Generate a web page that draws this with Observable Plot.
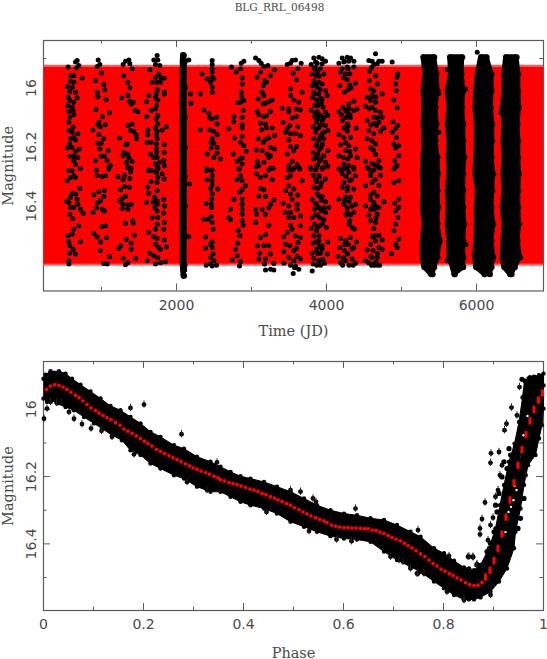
<!DOCTYPE html>
<html><head><meta charset="utf-8">
<script src="https://cdn.jsdelivr.net/npm/d3@7"></script>
<script src="https://cdn.jsdelivr.net/npm/@observablehq/plot@0.6"></script>
<style>html,body{margin:0;padding:0;background:#fff}svg{display:block}</style>
</head><body><div id="chart"></div>
<script>
const titleText = "BLG_RRL_06498";
const ink = "#4a4a4a", frameInk = "#5a5a5a";
const serif = "'DejaVu Serif', serif", sans = "'DejaVu Sans', sans-serif";

const xMajorTime = [2000, 4000, 6000], xMinorTime = [1000, 3000, 5000];
const yMajor = [16, 16.2, 16.4], yMinor = [15.9, 16.1, 16.3, 16.5];
const xMajorPhase = [0, 0.2, 0.4, 0.6, 0.8, 1], xMinorPhase = [0.1, 0.3, 0.5, 0.7, 0.9];

const bandOuter = [{t1: 233, t2: 6893, m1: 15.923, m2: 16.603}];
const bandInner = [{t1: 233, t2: 6893, m1: 15.93, m2: 16.596}];

const season1 = [[676,15.907],[654,15.912],[698,15.924],[667,15.932],[556,15.929],[742,15.966],[587,15.958],[631,15.958],[587,15.977],[631,15.98],[543,15.995],[609,15.997],[578,16.012],[654,16.014],[556,16.031],[676,16.033],[578,16.042],[631,16.048],[551,16.059],[609,16.065],[622,16.076],[565,16.079],[578,16.099],[631,16.09],[565,16.116],[622,16.133],[565,16.144],[609,16.15],[685,16.155],[631,16.167],[587,16.172],[654,16.176],[578,16.189],[543,16.203],[609,16.201],[703,16.206],[654,16.215],[578,16.231],[631,16.231],[685,16.235],[631,16.246],[654,16.259],[609,16.28],[565,16.28],[720,16.272],[631,16.297],[543,16.314],[587,16.303],[654,16.303],[711,16.34],[609,16.356],[654,16.359],[534,16.382],[587,16.37],[565,16.387],[676,16.376],[685,16.393],[587,16.404],[631,16.404],[720,16.41],[756,16.425],[578,16.427],[618,16.442],[698,16.466],[631,16.478],[551,16.5],[609,16.495],[720,16.52],[565,16.52],[578,16.534],[622,16.546],[578,16.559],[654,16.562],[565,16.585],[565,16.596]];
const season2 = [[956,15.905],[978,15.92],[943,15.927],[1000,15.949],[920,15.975],[1031,15.988],[1045,16.006],[943,16.014],[951,16.029],[1062,16.039],[1107,16.084],[925,16.073],[1014,16.097],[965,16.116],[885,16.142],[951,16.124],[987,16.131],[1054,16.124],[965,16.158],[1031,16.172],[951,16.187],[996,16.187],[978,16.206],[1089,16.212],[920,16.246],[996,16.231],[1040,16.231],[1076,16.246],[1120,16.263],[1098,16.274],[934,16.277],[943,16.295],[1009,16.299],[1098,16.269],[1054,16.297],[965,16.351],[1040,16.348],[898,16.361],[1031,16.367],[951,16.387],[987,16.382],[934,16.404],[1009,16.41],[889,16.421],[1040,16.416],[1009,16.469],[1054,16.466],[898,16.492],[943,16.504],[1067,16.507],[987,16.521],[987,16.551],[1107,16.571],[1031,16.594],[1076,16.596]];
const season3 = [[1365,15.905],[1320,15.909],[1289,15.92],[1378,15.918],[1409,15.935],[1298,15.958],[1351,15.98],[1378,15.999],[1351,16.025],[1267,16.033],[1378,16.045],[1423,16.048],[1396,16.054],[1445,16.076],[1485,16.08],[1409,16.122],[1356,16.127],[1387,16.144],[1431,16.146],[1462,16.159],[1240,16.169],[1467,16.172],[1320,16.192],[1342,16.189],[1298,16.218],[1351,16.223],[1289,16.229],[1365,16.237],[1409,16.248],[1334,16.251],[1351,16.266],[1396,16.272],[1351,16.269],[1387,16.283],[1307,16.295],[1289,16.31],[1222,16.3],[1378,16.306],[1307,16.333],[1374,16.336],[1254,16.344],[1276,16.374],[1320,16.367],[1245,16.382],[1289,16.393],[1276,16.408],[1351,16.396],[1396,16.393],[1351,16.41],[1320,16.458],[1414,16.449],[1423,16.457],[1440,16.498],[1329,16.512],[1396,16.525],[1254,16.534],[1231,16.542],[1396,16.546],[1289,16.576],[1454,16.577],[1351,16.591],[1320,16.598]];
const season4 = [[1742,15.89],[1698,15.905],[1751,15.905],[1720,15.92],[1778,15.924],[1645,15.938],[1765,15.952],[1720,15.963],[1796,15.966],[1840,15.967],[1676,15.98],[1742,15.98],[1787,15.98],[1742,16.006],[1734,16.018],[1840,16.014],[1631,16.025],[1720,16.031],[1840,16.02],[1600,16.046],[1751,16.04],[1734,16.059],[1662,16.076],[1720,16.071],[1600,16.096],[1751,16.093],[1729,16.105],[1751,16.122],[1720,16.135],[1867,16.131],[1809,16.142],[1618,16.142],[1742,16.146],[1618,16.158],[1734,16.158],[1742,16.172],[1609,16.184],[1662,16.184],[1734,16.189],[1840,16.192],[1734,16.206],[1734,16.218],[1840,16.218],[1654,16.223],[1742,16.235],[1698,16.235],[1778,16.251],[1831,16.246],[1720,16.257],[1840,16.263],[1631,16.277],[1751,16.274],[1631,16.28],[1676,16.28],[1751,16.269],[1734,16.286],[1809,16.291],[1840,16.308],[1751,16.303],[1662,16.317],[1742,16.32],[1618,16.336],[1742,16.348],[1631,16.356],[1707,16.37],[1742,16.382],[1689,16.385],[1600,16.387],[1831,16.376],[1742,16.393],[1840,16.399],[1707,16.404],[1742,16.416],[1831,16.423],[1676,16.438],[1751,16.438],[1840,16.455],[1742,16.461],[1720,16.478],[1831,16.478],[1631,16.489],[1698,16.503],[1742,16.509],[1840,16.514],[1720,16.529],[1765,16.54],[1867,16.538],[1787,16.546],[1645,16.559],[1698,16.568],[1751,16.574],[1609,16.585],[1720,16.596],[1853,16.588],[1787,16.591]];
const season5side = [[2165,15.905],[2187,16.02],[2196,16.051],[2174,16.325],[2163,16.503]];
const season6 = [[2476,15.907],[2476,15.92],[2476,15.935],[2476,15.946],[2476,15.963],[2409,15.969],[2498,15.969],[2454,15.98],[2476,15.997],[2342,15.952],[2320,16.02],[2476,16.014],[2365,16.074],[2431,16.085],[2476,16.105],[2534,16.099],[2445,16.101],[2542,16.122],[2320,16.141],[2445,16.142],[2498,16.146],[2542,16.158],[2476,16.172],[2462,16.184],[2498,16.187],[2462,16.203],[2542,16.201],[2409,16.223],[2542,16.221],[2498,16.235],[2587,16.24],[2400,16.274],[2476,16.277],[2400,16.279],[2467,16.279],[2476,16.297],[2409,16.31],[2476,16.314],[2476,16.329],[2551,16.342],[2454,16.342],[2476,16.359],[2467,16.376],[2396,16.391],[2467,16.393],[2467,16.404],[2365,16.444],[2422,16.444],[2462,16.435],[2476,16.455],[2489,16.478],[2387,16.504],[2454,16.529],[2476,16.521],[2387,16.542],[2476,16.54],[2489,16.562],[2454,16.574],[2396,16.6],[2454,16.596],[2498,16.585],[2534,16.6],[2476,16.602]];
const season7 = [[2898,15.909],[2863,15.916],[2734,15.929],[2796,15.946],[2876,15.966],[2854,15.935],[2876,15.986],[2863,16.014],[2867,16.029],[2898,16.042],[2818,16.05],[2854,16.048],[2889,16.076],[2765,16.097],[2876,16.099],[2765,16.114],[2876,16.124],[2876,16.135],[2698,16.138],[2774,16.169],[2876,16.164],[2854,16.184],[2898,16.195],[2929,16.214],[2756,16.223],[2876,16.237],[2809,16.248],[2854,16.24],[2831,16.274],[2876,16.257],[2840,16.274],[2854,16.297],[2809,16.31],[2876,16.314],[2920,16.331],[2876,16.344],[2845,16.353],[2765,16.376],[2876,16.376],[2876,16.393],[2720,16.41],[2876,16.41],[2698,16.438],[2720,16.446],[2876,16.427],[2876,16.449],[2822,16.481],[2889,16.464],[2845,16.5],[2818,16.525],[2787,16.546],[2809,16.568],[2743,16.582],[2854,16.587],[2840,16.602]];
const season8 = [[3054,15.898],[3098,15.907],[3129,15.916],[3165,15.927],[3218,15.924],[3307,15.938],[3120,15.946],[3254,15.958],[3076,15.963],[3174,15.975],[3200,15.98],[3156,15.992],[3142,16.014],[3165,16.025],[3089,16.037],[3276,16.04],[3231,16.046],[3187,16.051],[3156,16.054],[3254,16.079],[3076,16.079],[3098,16.09],[3200,16.093],[3165,16.097],[3120,16.119],[3187,16.122],[3134,16.141],[3200,16.135],[3276,16.135],[3089,16.172],[3187,16.175],[3231,16.169],[3307,16.161],[3156,16.184],[3254,16.201],[3307,16.206],[3062,16.21],[3142,16.212],[3209,16.223],[3254,16.229],[3076,16.248],[3165,16.251],[3231,16.235],[3062,16.266],[3254,16.271],[3098,16.263],[3231,16.277],[3289,16.272],[3067,16.291],[3120,16.303],[3187,16.297],[3276,16.31],[3120,16.34],[3165,16.344],[3098,16.367],[3187,16.367],[3298,16.379],[3254,16.393],[3054,16.41],[3142,16.41],[3231,16.404],[3067,16.427],[3187,16.427],[3054,16.455],[3231,16.464],[3187,16.497],[3120,16.506],[3076,16.534],[3165,16.534],[3231,16.534],[3111,16.559],[3254,16.562],[3098,16.579],[3187,16.579],[3174,16.596],[3298,16.594],[3187,16.616],[3254,16.613],[3298,16.616]];
const season9 = [[3476,15.92],[3520,15.916],[3587,15.905],[3542,15.907],[3618,15.935],[3662,15.916],[3556,15.95],[3600,15.972],[3520,16.003],[3676,16.014],[3520,16.025],[3565,16.04],[3631,16.048],[3409,16.068],[3498,16.071],[3498,16.08],[3600,16.071],[3654,16.074],[3600,16.097],[3542,16.101],[3422,16.116],[3511,16.127],[3618,16.131],[3476,16.138],[3454,16.15],[3520,16.155],[3587,16.155],[3654,16.161],[3498,16.176],[3520,16.198],[3600,16.198],[3476,16.223],[3565,16.212],[3542,16.248],[3498,16.263],[3609,16.259],[3645,16.274],[3542,16.277],[3498,16.277],[3565,16.272],[3631,16.269],[3476,16.303],[3520,16.297],[3676,16.314],[3498,16.331],[3454,16.348],[3565,16.342],[3520,16.359],[3618,16.362],[3422,16.39],[3542,16.376],[3498,16.399],[3609,16.393],[3454,16.421],[3520,16.421],[3609,16.41],[3498,16.438],[3565,16.438],[3654,16.433],[3520,16.464],[3542,16.478],[3654,16.466],[3476,16.489],[3431,16.503],[3587,16.5],[3654,16.506],[3454,16.529],[3511,16.534],[3618,16.523],[3600,16.543],[3431,16.553],[3565,16.551],[3498,16.574],[3609,16.57],[3431,16.593],[3565,16.585],[3654,16.579],[3520,16.6],[3587,16.602],[3631,16.613],[3574,16.608],[3556,16.628]];
const season10 = [[3831,15.898],[3898,15.896],[3942,15.901],[3854,15.912],[3796,15.92],[3876,15.916],[3942,15.918],[3987,15.909],[3840,15.935],[3920,15.935],[3809,15.952],[3867,15.958],[3965,15.952],[3831,15.975],[3898,15.98],[3809,15.992],[3876,15.997],[3942,15.986],[3831,16.014],[3898,16.02],[3987,16.009],[3809,16.031],[3867,16.04],[3942,16.037],[4009,16.025],[3898,16.054],[3840,16.059],[3956,16.065],[3796,16.076],[3876,16.079],[3987,16.082],[3840,16.097],[3920,16.093],[4018,16.093],[3867,16.116],[3942,16.11],[3822,16.131],[3898,16.135],[3987,16.127],[3854,16.15],[3942,16.155],[4018,16.144],[3831,16.172],[3898,16.176],[3965,16.172],[3854,16.195],[3929,16.201],[4018,16.212],[3822,16.218],[3885,16.223],[3965,16.229],[3831,16.24],[3911,16.246],[3987,16.251],[3787,16.274],[3867,16.266],[3942,16.271],[3787,16.269],[3854,16.277],[3942,16.274],[4018,16.265],[3898,16.297],[3822,16.295],[3987,16.308],[3867,16.317],[3831,16.336],[3920,16.333],[3876,16.359],[3809,16.376],[3942,16.367],[3987,16.385],[3867,16.393],[4031,16.404],[3840,16.41],[3929,16.416],[3987,16.421],[3809,16.438],[3885,16.433],[3965,16.446],[3840,16.461],[3920,16.464],[3796,16.475],[4000,16.472],[3867,16.483],[3831,16.5],[3898,16.517],[4018,16.521],[3822,16.525],[3942,16.534],[3867,16.546],[3809,16.559],[3920,16.559],[4009,16.562],[3831,16.577],[3898,16.585],[3974,16.593],[3809,16.619],[3822,16.596]];
const season10b = [[3850,15.93],[3880,15.945],[3900,15.96],[3860,15.985],[3915,16.005],[3850,16.02],[3925,16.035],[3880,16.06],[3935,16.05],[3905,16.09],[3850,16.085],[3960,16.1],[3880,16.105],[3920,16.125],[3860,16.14],[3965,16.15],[3915,16.165],[3870,16.19],[3945,16.19],[3900,16.21],[3860,16.235],[3925,16.24],[3880,16.26],[3960,16.27],[3905,16.3],[3860,16.31],[3935,16.32],[3885,16.34],[3900,16.365],[3930,16.38],[3850,16.39],[3900,16.405],[3965,16.405],[3860,16.43],[3915,16.44],[3945,16.46],[3880,16.47],[3900,16.5],[3860,16.52],[3905,16.535],[3880,16.56],[3950,16.58],[3870,16.6],[3920,16.6],[3940,16.545]];
const season11 = [[4209,15.898],[4276,15.896],[4320,15.898],[4165,15.916],[4231,15.912],[4298,15.909],[4365,15.909],[4209,15.935],[4276,15.929],[4365,15.929],[4187,15.946],[4254,15.952],[4311,15.952],[4178,15.992],[4276,15.972],[4387,15.984],[4329,16],[4240,16.014],[4285,16.006],[4365,16.045],[4298,16.054],[4222,16.065],[4409,16.071],[4165,16.079],[4276,16.082],[4365,16.076],[4311,16.09],[4209,16.11],[4276,16.122],[4396,16.135],[4165,16.158],[4276,16.146],[4231,16.167],[4320,16.167],[4187,16.192],[4298,16.195],[4387,16.206],[4254,16.212],[4165,16.229],[4222,16.235],[4320,16.229],[4409,16.235],[4231,16.257],[4298,16.263],[4365,16.274],[4178,16.274],[4165,16.274],[4222,16.274],[4276,16.272],[4365,16.269],[4298,16.286],[4387,16.297],[4231,16.32],[4311,16.314],[4209,16.336],[4276,16.348],[4365,16.342],[4165,16.376],[4254,16.37],[4320,16.37],[4231,16.393],[4276,16.404],[4387,16.393],[4276,16.421],[4365,16.421],[4311,16.449],[4342,16.472],[4374,16.478],[4187,16.509],[4254,16.517],[4320,16.506],[4400,16.521],[4178,16.54],[4240,16.551],[4365,16.54],[4156,16.57],[4276,16.562],[4187,16.591],[4254,16.585],[4342,16.579],[4387,16.593]];
const season11b = [[4240,15.91],[4290,15.935],[4230,15.965],[4310,15.99],[4255,16.075],[4300,16.07],[4200,16.09],[4320,16.1],[4260,16.1],[4230,16.135],[4290,16.13],[4255,16.185],[4310,16.215],[4285,16.24],[4210,16.29],[4260,16.3],[4330,16.31],[4280,16.335],[4300,16.385],[4240,16.38],[4340,16.4],[4260,16.43],[4320,16.43],[4300,16.46],[4240,16.53],[4290,16.53],[4340,16.545],[4280,16.56],[4225,16.575],[4300,16.6],[4215,16.6],[4355,16.6]];
const season12 = [[4565,15.907],[4609,15.909],[4654,15.884],[4698,15.909],[4742,15.909],[4631,15.92],[4676,15.918],[4574,15.943],[4654,15.958],[4676,15.986],[4587,16.003],[4631,16.009],[4542,16.031],[4609,16.025],[4742,16.02],[4587,16.042],[4654,16.048],[4520,16.062],[4609,16.065],[4654,16.076],[4720,16.082],[4742,16.099],[4542,16.11],[4631,16.099],[4698,16.116],[4667,16.127],[4765,16.135],[4720,16.146],[4565,16.144],[4631,16.155],[4542,16.172],[4609,16.178],[4654,16.189],[4587,16.203],[4654,16.225],[4698,16.246],[4520,16.248],[4609,16.255],[4676,16.263],[4565,16.274],[4720,16.271],[4542,16.269],[4631,16.277],[4698,16.269],[4587,16.297],[4720,16.295],[4520,16.331],[4609,16.32],[4698,16.329],[4631,16.353],[4587,16.376],[4676,16.365],[4520,16.399],[4631,16.387],[4765,16.385],[4609,16.41],[4698,16.404],[4565,16.43],[4676,16.427],[4587,16.449],[4654,16.455],[4631,16.475],[4609,16.503],[4698,16.498],[4742,16.514],[4587,16.529],[4654,16.517],[4542,16.548],[4698,16.54],[4742,16.546],[4520,16.585],[4609,16.574],[4676,16.574],[4565,16.591],[4631,16.596],[4711,16.6]];
const season12b = [[4600,15.93],[4570,15.975],[4620,16.03],[4660,16.03],[4570,16.07],[4640,16.12],[4680,16.1],[4590,16.125],[4625,16.21],[4640,16.26],[4590,16.29],[4650,16.31],[4590,16.36],[4660,16.4],[4620,16.4],[4640,16.41],[4590,16.41],[4660,16.44],[4640,16.5],[4620,16.55],[4680,16.56],[4590,16.57],[4640,16.6],[4660,16.59],[4600,16.6],[4680,16.6]];
const season13 = [[4876,15.912],[4951,15.952],[4942,15.963],[4920,15.986],[4933,16.009],[4898,16.04],[4942,16.067],[4885,16.114],[4951,16.127],[4920,16.138],[4876,16.15],[4933,16.167],[4898,16.189],[4965,16.195],[4920,16.203],[4965,16.229],[4907,16.246],[4942,16.263],[4898,16.274],[4920,16.266],[4965,16.314],[4898,16.32],[4965,16.376],[4907,16.39],[4965,16.404],[4920,16.416],[4951,16.438],[4920,16.461],[4898,16.483],[4965,16.512],[4920,16.529],[4942,16.54],[4867,16.561]];
const strayDense = [[6009,15.879],[5498,16.018],[5609,15.938],[5854,16.003],[5862,16.53],[5965,16.562],[5609,16.585],[6320,16.082],[5498,16.15]];

const denseMag = [15.896,15.952,16.009,16.065,16.122,16.178,16.235,16.291,16.348,16.404,16.461,16.517,16.574,16.607,16.63];
const denseAL = [5293,5319,5293,5306,5293,5306,5293,5284,5293,5284,5306,5284,5284,5306,5395];
const denseAR = [5437,5468,5481,5455,5468,5455,5481,5490,5481,5490,5481,5513,5481,5437,5415];
const denseBL = [5648,5661,5617,5639,5617,5639,5630,5639,5617,5630,5617,5639,5639,5684,5706];
const denseBR = [5810,5801,5825,5810,5824,5824,5837,5824,5824,5824,5837,5824,5824,5824,5712];
const denseCL = [6061,6017,5995,5986,6004,6004,5995,5986,6017,6004,6004,5995,5986,5995,6106];
const denseCR = [6135,6201,6201,6192,6210,6210,6201,6224,6210,6201,6224,6201,6224,6201,6179];
const denseDL = [6395,6372,6372,6350,6372,6359,6372,6359,6372,6350,6372,6359,6350,6372,6448];
const denseDR = [6535,6557,6557,6566,6548,6557,6557,6566,6557,6557,6566,6548,6579,6512,6468];
const spikeMag = [15.889,15.91,16,16.1,16.2,16.3,16.4,16.5,16.6,16.615,16.635];
const spikeL = [2088,2084,2084,2082,2084,2084,2082,2084,2084,2090,2094];
const spikeR = [2098,2112,2112,2112,2112,2112,2112,2112,2108,2104,2100];

const modelPhase = [.006,.014,.022,.031,.039,.047,.055,.064,.071,.079,.087,.095,.104,.111,.119,.127,.135,.144,.153,.161,.169,.177,.186,.194,.202,.209,.217,.226,.234,.242,.251,.259,.267,.275,.284,.292,.299,.307,.315,.324,.332,.341,.349,.354,.362,.371,.379,.387,.395,.404,.413,.421,.429,.437,.445,.454,.462,.469,.477,.486,.494,.502,.511,.519,.527,.535,.544,.552,.561,.567,.576,.584,.592,.601,.609,.617,.625,.634,.642,.649,.657,.665,.673,.681,.689,.697,.705,.714,.722,.729,.737,.745,.754,.763,.771,.779,.787,.795,.803,.812,.819,.827,.835,.844,.852,.861,.869,.877];
const modelMag = [15.941,15.931,15.927,15.929,15.934,15.941,15.949,15.958,15.965,15.975,15.986,15.996,16.003,16.011,16.018,16.025,16.031,16.04,16.047,16.059,16.065,16.072,16.079,16.087,16.095,16.102,16.109,16.119,16.125,16.131,16.138,16.144,16.149,16.156,16.162,16.168,16.174,16.178,16.184,16.188,16.193,16.199,16.204,16.209,16.213,16.218,16.221,16.224,16.228,16.232,16.237,16.24,16.245,16.25,16.254,16.26,16.264,16.269,16.274,16.28,16.285,16.292,16.298,16.305,16.311,16.317,16.322,16.327,16.332,16.337,16.344,16.347,16.35,16.352,16.352,16.353,16.353,16.354,16.355,16.355,16.359,16.36,16.365,16.369,16.375,16.381,16.386,16.391,16.398,16.405,16.412,16.42,16.43,16.438,16.448,16.458,16.466,16.475,16.481,16.488,16.494,16.501,16.507,16.515,16.521,16.524,16.523,16.515];
const risePhase = [.884,.893,.901,.909,.917,.925,.933,.941,.949,.957,.965,.973,.981,.990,.998];
const riseMag = [16.5,16.48,16.451,16.415,16.372,16.322,16.271,16.22,16.168,16.121,16.076,16.036,16.002,15.974,15.953];

const upperEdge = [[0,15.909],[.004,15.897],[.014,15.887],[.031,15.887],[.044,15.894],[.057,15.909],[.074,15.927],[.094,15.947],[.114,15.968],[.134,15.99],[.154,16.003],[.174,16.023],[.194,16.042],[.214,16.067],[.234,16.082],[.261,16.107],[.281,16.117],[.307,16.141],[.334,16.156],[.354,16.171],[.374,16.186],[.394,16.199],[.414,16.206],[.441,16.216],[.467,16.23],[.494,16.245],[.521,16.265],[.547,16.285],[.574,16.3],[.601,16.31],[.627,16.315],[.654,16.324],[.681,16.329],[.707,16.344],[.734,16.364],[.754,16.379],[.781,16.413],[.801,16.428],[.821,16.45],[.841,16.47],[.851,16.473],[.861,16.478],[.874,16.463],[.891,16.413],[.904,16.354],[.913,16.285],[.921,16.225],[.931,16.156],[.942,16.102],[.951,16.038],[.958,15.965],[.962,15.915],[.973,15.905],[.991,15.899],[1,15.894]];
const lowerEdge = [[0,15.968],[.007,15.978],[.017,15.973],[.027,15.983],[.044,15.993],[.061,16.003],[.081,16.023],[.101,16.042],[.117,16.057],[.137,16.077],[.157,16.092],[.174,16.122],[.194,16.136],[.214,16.161],[.234,16.176],[.261,16.196],[.281,16.206],[.307,16.23],[.334,16.245],[.354,16.245],[.374,16.26],[.394,16.275],[.414,16.285],[.441,16.295],[.467,16.31],[.494,16.334],[.521,16.349],[.547,16.364],[.574,16.377],[.601,16.384],[.627,16.387],[.654,16.394],[.681,16.423],[.707,16.448],[.734,16.468],[.754,16.483],[.781,16.512],[.801,16.532],[.821,16.552],[.841,16.565],[.851,16.565],[.861,16.565],[.874,16.559],[.894,16.542],[.911,16.512],[.927,16.473],[.941,16.413],[.944,16.364],[.954,16.295],[.961,16.225],[.969,16.166],[.984,16.136],[.991,16.087],[.997,16.047],[1,15.998],[1,15.929]];
const outliers = [[.174,15.996],[.201,15.986],[.276,16.074],[.061,16.028],[.077,16.044],[.095,16.057],[.116,16.064],[.137,16.082],[.347,16.158],[.001,16.028],[.007,15.998],[.014,15.978],[.026,15.978],[.035,15.98],[.051,16.008],[.181,16.134],[.287,16.216],[.327,16.24],[.514,16.245],[.494,16.24],[.539,16.265],[.545,16.275],[.624,16.295],[.446,16.305],[.531,16.362],[.586,16.387],[.616,16.392],[.694,16.438],[.711,16.448],[.719,16.453],[.734,16.473],[.749,16.359],[.749,16.488],[.811,16.436],[.849,16.438],[.859,16.438],[.867,16.46],[.747,16.488],[.761,16.488],[.807,16.542],[.841,16.567],[.894,16.552],[.952,15.934],[.936,15.995],[.926,16.043],[.922,16.062],[.947,16.018],[.895,16.131],[.894,16.159],[.911,16.127],[.917,16.166],[.913,16.196],[.909,16.24],[.904,16.26],[.883,16.277],[.899,16.322],[.877,16.326],[.894,16.344],[.873,16.354],[.873,16.372],[.889,16.389],[.851,16.438],[.859,16.44],[.879,16.46],[.866,16.463],[.841,16.565],[.964,16.196],[.957,16.265],[.954,16.137]];
const riseCluster = [[.957,15.911],[.964,15.917],[.971,15.909],[.981,15.904],[.964,15.949],[.961,15.963],[.931,16.117],[.934,16.136],[.921,16.156],[.927,16.176],[.917,16.201],[.911,16.25],[.904,16.285],[.907,16.305],[.901,16.364],[.894,16.399],[.887,16.423],[.944,16.112],[.951,16.082],[.953,16.057],[.961,16.265],[.954,16.324],[.949,16.354]];
const riseGaps = [[.942,16.228],[.946,16.24],[.94,16.27],[.93,16.305],[.935,16.29],[.924,16.365],[.96,16.077],[.968,16.02]];

const red = "#ff0000";
const seasons = [season1,season2,season3,season4,season5side,season6,season7,season8,season9,season10,season10b,season11,season11b,season12,season12b,season13,strayDense].flat();
const columns = [[denseMag,denseAL,denseAR],[denseMag,denseBL,denseBR],[denseMag,denseCL,denseCR],[denseMag,denseDL,denseDR],[spikeMag,spikeL,spikeR]];

function frameMarks(H, xMaj, xMin, yMaj, yMin, xFmt) {
  return [
    Plot.ruleX(xMaj, {stroke: frameInk, insetTop: H - 7}),
    Plot.ruleX(xMaj, {stroke: frameInk, insetBottom: H - 7}),
    Plot.ruleX(xMin, {stroke: frameInk, insetTop: H - 3.5}),
    Plot.ruleX(xMin, {stroke: frameInk, insetBottom: H - 3.5}),
    Plot.ruleY(yMaj, {stroke: frameInk, insetRight: 500 - 7}),
    Plot.ruleY(yMaj, {stroke: frameInk, insetLeft: 500 - 7}),
    Plot.ruleY(yMin, {stroke: frameInk, insetRight: 500 - 3.5}),
    Plot.ruleY(yMin, {stroke: frameInk, insetLeft: 500 - 3.5}),
    Plot.frame({stroke: frameInk, strokeWidth: 1.2}),
    Plot.axisX({anchor: "bottom", ticks: xMaj, tickSize: 0, tickPadding: 9, label: null, tickFormat: xFmt, fontSize: 14, fontFamily: sans, fill: ink}),
    Plot.axisY({anchor: "left", ticks: yMaj, tickSize: 0, tickPadding: 8, label: null, tickRotate: -90, textAnchor: "middle", tickFormat: d => String(d), fontSize: 14, fontFamily: sans, fill: ink})
  ];
}
function caption(text, opts) {
  return Plot.text([text], {text: d => d, fontFamily: serif, fill: ink, fontSize: 14.5, ...opts});
}

const topPlot = Plot.plot({
  width: 547, height: 340, marginLeft: 43, marginRight: 4, marginTop: 40, marginBottom: 49.5,
  x: {domain: [227, 6893]}, y: {domain: [15.839, 16.687], reverse: true},
  marks: [
    ...frameMarks(250.5, xMajorTime, xMinorTime, yMajor, yMinor, d => String(d)),
    Plot.rect(bandOuter, {x1: "t1", x2: "t2", y1: "m1", y2: "m2", fill: "#ff5c5c"}),
    Plot.rect(bandInner, {x1: "t1", x2: "t2", y1: "m1", y2: "m2", fill: red}),
    Plot.ruleY([15.839], {stroke: frameInk}),
    ...columns.map(([m, l, r]) => Plot.areaX(m, {y: d => d, x1: (d, i) => l[i], x2: (d, i) => r[i], fill: "black", stroke: "black", strokeWidth: 5, strokeLinejoin: "round", curve: "linear"})),
    ...columns.flatMap(([m, l, r]) => [l, r].map(e => Plot.dot(m, {y: d => d, x: (d, i) => e[i], r: 3, fill: "black"}))),
    Plot.dot(seasons, {x: d => d[0], y: d => d[1], r: 2.5, fill: "black"}),
    caption(titleText, {frameAnchor: "top", dy: -37, dx: -14, fontSize: 10.5}),
    caption("Time (JD)", {frameAnchor: "bottom", dy: 45}),
    caption("Magnitude", {frameAnchor: "left", textAnchor: "middle", dx: -35, rotate: -90})
  ]
});

const phaseOutline = upperEdge.concat(lowerEdge.slice().reverse());
const modelPts = modelPhase.map((p, i) => [p, modelMag[i]]);
const risePts = risePhase.map((p, i) => [p, riseMag[i]]);
const botPlot = Plot.plot({
  width: 547, height: 319, marginLeft: 43, marginRight: 4, marginTop: 21, marginBottom: 49,
  x: {domain: [0, 1]}, y: {domain: [15.858, 16.598], reverse: true},
  marks: [
    ...frameMarks(249, xMajorPhase, xMinorPhase, yMajor, yMinor, d => String(d)),
    Plot.line(phaseOutline, {x: d => d[0], y: d => d[1], fill: "black", stroke: "black", strokeWidth: 1}),
    Plot.dot(upperEdge, {x: d => d[0], y: d => d[1], r: 2.2, fill: "black"}),
    Plot.dot(lowerEdge, {x: d => d[0], y: d => d[1], r: 2.2, fill: "black"}),
    Plot.dot(outliers, {x: d => d[0], y: d => d[1], r: 2.4, fill: "black"}),
    Plot.ruleX(outliers, {x: d => d[0], y1: d => d[1] - 0.011, y2: d => d[1] + 0.011, stroke: "#222", strokeWidth: 1}),
    Plot.dot(riseCluster, {x: d => d[0], y: d => d[1], r: 2.6, fill: "black"}),
    Plot.dot(riseGaps, {x: d => d[0], y: d => d[1], r: 1.2, fill: "white"}),
    Plot.dot(modelPts, {x: d => d[0], y: d => d[1], r: 1.9, fill: red}),
    Plot.ruleX(risePts, {x: d => d[0], y1: d => d[1] - 0.007, y2: d => d[1] + 0.007, stroke: red, strokeWidth: 3.2, strokeLinecap: "round"}),
    caption("Phase", {frameAnchor: "bottom", dy: 47}),
    caption("Magnitude", {frameAnchor: "left", textAnchor: "middle", dx: -35, rotate: -90})
  ]
});
const host = document.getElementById("chart");
host.append(topPlot, botPlot);
</script></body></html>
